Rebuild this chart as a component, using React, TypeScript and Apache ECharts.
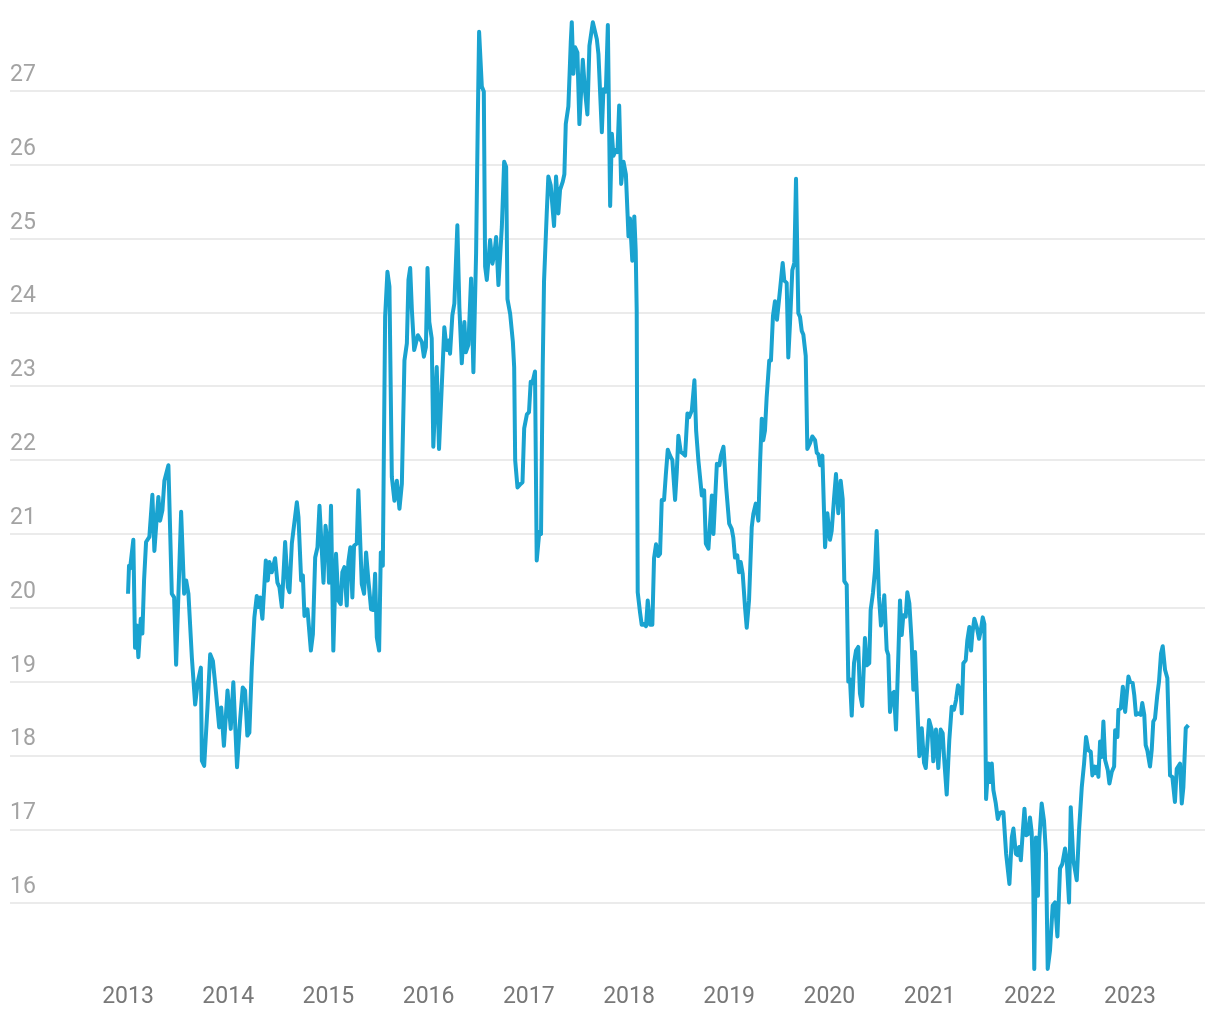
import React, { useEffect, useRef } from "react";
import * as echarts from "echarts";

const YEAR_LABELS = [2013, 2014, 2015, 2016, 2017, 2018, 2019, 2020, 2021, 2022, 2023];
const Y_MIN = 15;
const Y_MAX = 28;
const Y_SHOWN = [16, 17, 18, 19, 20, 21, 22, 23, 24, 25, 26, 27];

const d2013 = [
  [2013.0, 20.19], [2013.01, 20.57], [2013.02, 20.53], [2013.053, 20.92], [2013.07, 19.46],
  [2013.087, 19.76], [2013.103, 19.33], [2013.127, 19.85], [2013.143, 19.65], [2013.16, 20.37],
  [2013.18, 20.89], [2013.213, 20.96], [2013.243, 21.53], [2013.263, 20.77], [2013.287, 21.23],
  [2013.303, 21.5], [2013.32, 21.18], [2013.343, 21.32], [2013.363, 21.72], [2013.403, 21.93],
  [2013.437, 20.19], [2013.46, 20.14], [2013.48, 19.23], [2013.53, 21.3], [2013.56, 20.19],
  [2013.58, 20.37], [2013.603, 20.19], [2013.637, 19.33], [2013.67, 18.69], [2013.697, 19.0],
  [2013.727, 19.19], [2013.737, 17.93], [2013.76, 17.86], [2013.793, 18.65], [2013.82, 19.37],
  [2013.847, 19.28], [2013.87, 18.97], [2013.91, 18.38], [2013.93, 18.65], [2013.957, 18.13],
  [2013.993, 18.88],
];

const d2014 = [
  [2014.025, 18.36], [2014.051, 18.99], [2014.088, 17.84], [2014.118, 18.47], [2014.145, 18.92],
  [2014.168, 18.88], [2014.191, 18.27], [2014.211, 18.31], [2014.235, 19.19], [2014.261, 19.87],
  [2014.285, 20.16], [2014.301, 20.01], [2014.318, 20.14], [2014.341, 19.85], [2014.375, 20.64],
  [2014.395, 20.37], [2014.411, 20.62], [2014.435, 20.48], [2014.468, 20.67], [2014.491, 20.34],
  [2014.511, 20.28], [2014.535, 20.01], [2014.568, 20.89], [2014.595, 20.28], [2014.611, 20.21],
  [2014.635, 20.87], [2014.685, 21.43], [2014.701, 21.23], [2014.728, 20.37], [2014.745, 20.44],
  [2014.761, 19.89], [2014.791, 19.98], [2014.825, 19.42], [2014.845, 19.64], [2014.868, 20.68],
  [2014.891, 20.82], [2014.911, 21.38], [2014.951, 20.34], [2014.971, 21.11], [2014.991, 20.89],
];

const d2015 = [
  [2015.006, 20.34], [2015.026, 21.38], [2015.049, 19.42], [2015.076, 20.73], [2015.099, 20.1],
  [2015.123, 20.05], [2015.139, 20.48], [2015.159, 20.55], [2015.183, 20.03], [2015.199, 20.62],
  [2015.219, 20.82], [2015.239, 20.14], [2015.256, 20.84], [2015.283, 20.87], [2015.299, 21.59],
  [2015.333, 20.32], [2015.356, 20.19], [2015.376, 20.75], [2015.399, 20.37], [2015.426, 19.98],
  [2015.449, 19.97], [2015.466, 20.46], [2015.483, 19.6], [2015.506, 19.42], [2015.523, 20.75],
  [2015.543, 20.57], [2015.566, 23.94], [2015.589, 24.55], [2015.609, 24.35], [2015.633, 21.77],
  [2015.659, 21.45], [2015.683, 21.72], [2015.709, 21.34], [2015.733, 21.68], [2015.759, 23.35],
  [2015.783, 23.58], [2015.799, 24.44], [2015.816, 24.6], [2015.833, 24.03], [2015.856, 23.49],
  [2015.893, 23.69], [2015.933, 23.6], [2015.953, 23.4], [2015.973, 23.53], [2015.989, 24.6],
];

const d2016 = [
  [2016.007, 23.87], [2016.031, 23.65], [2016.047, 22.18], [2016.081, 23.26], [2016.104, 22.15],
  [2016.131, 22.99], [2016.157, 23.8], [2016.181, 23.49], [2016.197, 23.62], [2016.214, 23.44],
  [2016.237, 23.96], [2016.257, 24.12], [2016.287, 25.18], [2016.307, 24.07], [2016.331, 23.31],
  [2016.357, 23.87], [2016.371, 23.46], [2016.397, 23.56], [2016.424, 24.46], [2016.447, 23.19],
  [2016.474, 24.8], [2016.491, 26.61], [2016.504, 27.8], [2016.531, 27.06], [2016.551, 26.99],
  [2016.564, 24.62], [2016.581, 24.44], [2016.614, 24.98], [2016.637, 24.66], [2016.657, 24.8],
  [2016.674, 25.02], [2016.697, 24.37], [2016.731, 25.16], [2016.754, 26.04], [2016.774, 25.97],
  [2016.787, 24.18], [2016.814, 23.98], [2016.841, 23.6], [2016.854, 23.26], [2016.864, 22.0],
  [2016.887, 21.63], [2016.921, 21.68], [2016.937, 21.7], [2016.954, 22.43], [2016.981, 22.62],
];

const d2017 = [
  [2017.002, 22.65], [2017.019, 23.06], [2017.035, 23.04], [2017.062, 23.2], [2017.079, 20.64],
  [2017.105, 21.03], [2017.122, 21.0], [2017.139, 23.26], [2017.152, 24.42], [2017.179, 25.34],
  [2017.195, 25.84], [2017.219, 25.72], [2017.252, 25.17], [2017.272, 25.84], [2017.295, 25.34],
  [2017.312, 25.66], [2017.339, 25.77], [2017.355, 25.87], [2017.369, 26.55], [2017.395, 26.79],
  [2017.419, 27.66], [2017.429, 27.93], [2017.445, 27.23], [2017.462, 27.59], [2017.485, 27.52],
  [2017.505, 26.55], [2017.539, 27.42], [2017.562, 26.99], [2017.585, 26.68], [2017.605, 27.61],
  [2017.639, 27.93], [2017.679, 27.7], [2017.695, 27.5], [2017.729, 26.44], [2017.745, 27.02],
  [2017.769, 26.99], [2017.789, 27.89], [2017.812, 25.44], [2017.829, 26.42], [2017.845, 26.12],
  [2017.869, 26.2], [2017.885, 26.17], [2017.902, 26.8], [2017.922, 25.74], [2017.945, 26.04],
  [2017.969, 25.87], [2017.995, 25.03],
];

const d2018 = [
  [2018.01, 25.27], [2018.033, 24.7], [2018.053, 25.3], [2018.067, 24.84], [2018.077, 24.02],
  [2018.087, 20.21], [2018.11, 19.94], [2018.127, 19.77], [2018.153, 19.78], [2018.17, 19.75],
  [2018.187, 20.1], [2018.21, 19.77], [2018.233, 19.77], [2018.25, 20.67], [2018.27, 20.86],
  [2018.293, 20.7], [2018.31, 20.73], [2018.327, 21.46], [2018.35, 21.46], [2018.367, 21.79],
  [2018.387, 22.14], [2018.41, 22.06], [2018.433, 22.0], [2018.46, 21.46], [2018.477, 21.84],
  [2018.493, 22.33], [2018.517, 22.11], [2018.537, 22.09], [2018.56, 22.06], [2018.583, 22.63],
  [2018.6, 22.58], [2018.627, 22.67], [2018.653, 23.08], [2018.67, 22.4], [2018.693, 21.99],
  [2018.727, 21.52], [2018.75, 21.59], [2018.767, 20.87], [2018.793, 20.8], [2018.827, 21.52],
  [2018.843, 21.0], [2018.877, 21.95], [2018.903, 21.93], [2018.917, 22.06], [2018.943, 22.18],
  [2018.97, 21.63],
];

const d2019 = [
  [2019.0, 21.14], [2019.025, 21.07], [2019.041, 20.95], [2019.058, 20.68], [2019.081, 20.71],
  [2019.098, 20.48], [2019.115, 20.62], [2019.135, 20.46], [2019.158, 20.01], [2019.175, 19.73],
  [2019.198, 20.1], [2019.225, 21.09], [2019.241, 21.27], [2019.265, 21.41], [2019.291, 21.18],
  [2019.308, 21.95], [2019.325, 22.56], [2019.34, 22.27], [2019.357, 22.4], [2019.374, 22.85],
  [2019.4, 23.35], [2019.417, 23.35], [2019.437, 23.95], [2019.457, 24.15], [2019.477, 23.9],
  [2019.507, 24.3], [2019.534, 24.67], [2019.55, 24.43], [2019.574, 24.4], [2019.59, 23.39],
  [2019.607, 23.85], [2019.63, 24.57], [2019.65, 24.67], [2019.667, 25.81], [2019.69, 23.99],
  [2019.707, 23.94], [2019.724, 23.75], [2019.74, 23.7], [2019.764, 23.41], [2019.78, 22.15],
  [2019.807, 22.23], [2019.83, 22.32], [2019.857, 22.27], [2019.874, 22.1], [2019.89, 22.08],
  [2019.907, 21.93], [2019.93, 22.06], [2019.957, 20.82], [2019.98, 21.28],
];

const d2020 = [
  [2020.006, 20.92], [2020.023, 21.04], [2020.046, 21.47], [2020.066, 21.81], [2020.089, 21.28],
  [2020.113, 21.72], [2020.133, 21.47], [2020.149, 20.36], [2020.173, 20.31], [2020.189, 19.0],
  [2020.206, 19.03], [2020.223, 18.54], [2020.246, 19.25], [2020.266, 19.42], [2020.288, 19.47],
  [2020.305, 18.84], [2020.328, 18.67], [2020.355, 19.59], [2020.372, 19.22], [2020.398, 19.25],
  [2020.412, 19.97], [2020.435, 20.2], [2020.455, 20.5], [2020.472, 21.04], [2020.495, 20.15],
  [2020.515, 19.76], [2020.532, 19.88], [2020.548, 20.17], [2020.572, 19.43], [2020.588, 19.36],
  [2020.605, 18.59], [2020.628, 18.84], [2020.645, 18.86], [2020.665, 18.35], [2020.688, 19.34],
  [2020.705, 20.1], [2020.722, 19.63], [2020.738, 19.9], [2020.762, 19.88], [2020.778, 20.21],
  [2020.798, 20.06], [2020.822, 19.52], [2020.838, 18.89], [2020.855, 19.4], [2020.872, 18.86],
  [2020.898, 17.99], [2020.922, 18.37], [2020.945, 17.9], [2020.962, 17.83], [2020.995, 18.48],
];

const d2021 = [
  [2021.021, 18.35], [2021.037, 17.92], [2021.064, 18.35], [2021.087, 17.83], [2021.111, 18.35],
  [2021.131, 18.3], [2021.144, 17.99], [2021.171, 17.47], [2021.197, 18.21], [2021.221, 18.66],
  [2021.244, 18.62], [2021.264, 18.75], [2021.284, 18.95], [2021.311, 18.86], [2021.321, 18.57],
  [2021.337, 19.25], [2021.361, 19.29], [2021.377, 19.56], [2021.397, 19.74], [2021.414, 19.42],
  [2021.427, 19.65], [2021.447, 19.85], [2021.471, 19.74], [2021.494, 19.58], [2021.511, 19.69],
  [2021.531, 19.87], [2021.547, 19.78], [2021.564, 17.41], [2021.587, 17.89], [2021.604, 17.64],
  [2021.621, 17.89], [2021.637, 17.53], [2021.661, 17.35], [2021.681, 17.14], [2021.697, 17.21],
  [2021.714, 17.23], [2021.737, 17.23], [2021.764, 16.67], [2021.797, 16.26], [2021.821, 16.89],
  [2021.837, 17.01], [2021.861, 16.67], [2021.877, 16.65], [2021.894, 16.76], [2021.911, 16.58],
  [2021.931, 16.98], [2021.947, 17.28], [2021.964, 16.92], [2021.987, 16.94],
];

const d2022 = [
  [2022.002, 17.16], [2022.019, 16.96], [2022.035, 16.22], [2022.045, 15.11], [2022.062, 16.89],
  [2022.082, 16.1], [2022.095, 16.85], [2022.119, 17.35], [2022.142, 17.12], [2022.162, 16.67],
  [2022.179, 15.11], [2022.202, 15.36], [2022.229, 15.97], [2022.252, 16.01], [2022.276, 15.55],
  [2022.302, 16.47], [2022.325, 16.53], [2022.352, 16.74], [2022.369, 16.58], [2022.392, 16.01],
  [2022.409, 17.3], [2022.435, 16.58], [2022.469, 16.31], [2022.492, 16.99], [2022.519, 17.57],
  [2022.542, 17.89], [2022.562, 18.25], [2022.585, 18.07], [2022.609, 18.05], [2022.625, 17.73],
  [2022.645, 17.85], [2022.659, 17.76], [2022.675, 17.85], [2022.685, 17.71], [2022.702, 18.19],
  [2022.719, 17.98], [2022.735, 18.46], [2022.752, 17.94], [2022.779, 17.8], [2022.795, 17.62],
  [2022.819, 17.78], [2022.842, 17.85], [2022.852, 18.34], [2022.875, 18.25], [2022.885, 18.62],
  [2022.909, 18.64], [2022.929, 18.93], [2022.952, 18.59], [2022.969, 18.84], [2022.985, 19.07],
];

const d2023 = [
  [2023.0, 19.0], [2023.027, 18.98], [2023.043, 18.82], [2023.06, 18.55], [2023.083, 18.57],
  [2023.107, 18.55], [2023.123, 18.71], [2023.143, 18.55], [2023.157, 18.14], [2023.173, 18.07],
  [2023.2, 17.85], [2023.217, 18.07], [2023.233, 18.46], [2023.25, 18.5], [2023.273, 18.82],
  [2023.29, 19.0], [2023.31, 19.38], [2023.327, 19.48], [2023.35, 19.16], [2023.373, 19.05],
  [2023.4, 17.73], [2023.423, 17.71], [2023.449, 17.37], [2023.467, 17.82], [2023.5, 17.89],
  [2023.517, 17.35], [2023.533, 17.57], [2023.557, 18.37], [2023.583, 18.41],
];

const LINE_COLOR = "#1aa3d0";
const GRID_COLOR = "#e5e5e5";

export default function App() {
  const ref = useRef<HTMLDivElement>(null);

  useEffect(() => {
    if (!ref.current) return;
    const chart = echarts.init(ref.current, null, { renderer: "svg" });
    const data = [
      ...d2013, ...d2014, ...d2015, ...d2016, ...d2017, ...d2018,
      ...d2019, ...d2020, ...d2021, ...d2022, ...d2023,
    ];
    const splitColors: string[] = [];
    for (let v = Y_MIN; v <= Y_MAX; v++) {
      splitColors.push(Y_SHOWN.includes(v) ? GRID_COLOR : "rgba(0,0,0,0)");
    }
    chart.setOption({
      animation: false,
      grid: {
        left: 10,
        right: 15,
        top: 17,
        bottom: 43,
        containLabel: false,
        outerBoundsMode: "none",
      },
      xAxis: {
        type: "value",
        min: 2011.822,
        max: 2023.749,
        axisLine: { show: false },
        axisTick: { show: false },
        splitLine: { show: false },
        axisLabel: {
          customValues: YEAR_LABELS,
          formatter: (v: number) => String(v),
          color: "#787878",
          fontSize: 23,
          fontFamily: "Roboto",
          margin: 7,
        },
      },
      yAxis: {
        type: "value",
        min: Y_MIN,
        max: Y_MAX,
        interval: 1,
        axisLine: { show: false },
        axisTick: { show: false },
        splitLine: { show: true, lineStyle: { color: splitColors, width: 1.5 } },
        axisLabel: {
          inside: true,
          margin: 0,
          verticalAlign: "bottom",
          padding: [0, 0, 6, 0],
          color: "#a3a3a3",
          fontSize: 23,
          fontFamily: "Roboto",
          formatter: (v: number) => (Y_SHOWN.includes(v) ? String(v) : ""),
        },
      },
      series: [
        {
          type: "line",
          data,
          showSymbol: false,
          symbol: "none",
          clip: false,
          lineStyle: { color: LINE_COLOR, width: 4, join: "round" },
          itemStyle: { color: LINE_COLOR },
        },
      ],
    });
    return () => chart.dispose();
  }, []);

  return (
    <div
      ref={ref}
      style={{ position: "fixed", left: 0, top: 0, width: 1220, height: 1020 }}
    />
  );
}
